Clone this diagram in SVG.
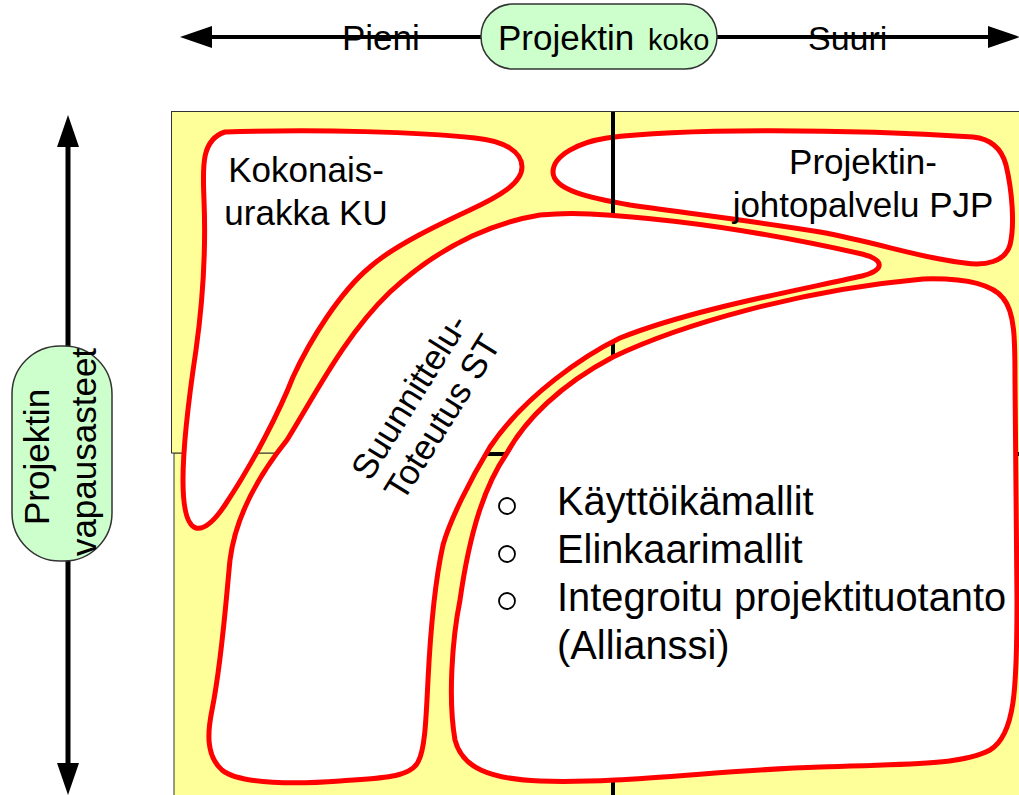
<svg xmlns="http://www.w3.org/2000/svg" width="1019" height="795" viewBox="0 0 1019 795">
<style>
  text { font-family: "Liberation Sans", Arial, sans-serif; fill: #000; }
  .zone { fill: #ffffff; stroke: #ff0000; stroke-width: 5; stroke-linejoin: round; }
  .pill { fill: #ccffcc; stroke: #333333; stroke-width: 1.5; }
  .bg { fill: #ffff99; stroke: #333333; stroke-width: 1; }
  .axis { stroke: #000; fill: none; }
  .cross { stroke: #000; stroke-width: 4; fill: none; }
  .bullet { fill: none; stroke: #000; stroke-width: 1.8; }
  .t35 { font-size: 35px; }
  .t39 { font-size: 39.8px; }
</style>
<defs>
  <marker id="ah" markerUnits="userSpaceOnUse" markerWidth="32" markerHeight="22" viewBox="0 0 32 22" refX="16" refY="11" orient="auto-start-reverse">
    <path d="M0,0 L32,11 L0,22 Z" fill="#000"/>
  </marker>
</defs>
<rect width="1019" height="795" fill="#ffffff"/>

<g id="background">
  <rect class="bg" x="174" y="453" width="860" height="360"/>
  <rect class="bg" x="171.5" y="111.5" width="860" height="341.5"/>
</g>

<g id="node-pjp">
  <path class="zone" d="M 607,138 C 680,128 850,129 973,137 C 992,139 1002,150 1006,165 C 1012,190 1015,225 1010,245 C 1005,262 985,266 965,263 C 920,258 880,243 820,232 C 760,222 700,215 630,205 C 590,198 553,190 553,172 C 553,155 580,142 607,138 Z"/>
  <text class="t35" x="863" y="174" text-anchor="middle">Projektin-</text>
  <text class="t35" x="863" y="217" text-anchor="middle">johtopalvelu PJP</text>
</g>

<g id="cross-lines">
  <line class="cross" x1="613" y1="112" x2="613" y2="795"/>
  <line class="cross" x1="470" y1="454" x2="1019" y2="454"/>
</g>

<g id="node-ku">
  <path class="zone" d="M 225,132 C 320,129 420,132 475,138 C 505,141 522,152 522,167 C 522,183 500,196 470,210 C 440,224 395,245 370,267 C 340,292 310,340 293,377 C 280,410 255,460 225,505 C 215,520 205,530 196,528 C 186,525 183,505 183,480 C 183,440 190,390 196,350 C 203,300 206,250 204,200 C 203,170 200,140 225,132 Z"/>
  <text class="t35" x="306" y="182" text-anchor="middle">Kokonais-</text>
  <text class="t35" x="306" y="225" text-anchor="middle">urakka KU</text>
</g>

<g id="node-st">
  <path class="zone" d="M 590,214 C 700,220 800,240 862,254 C 885,260 885,270 862,276 C 790,292 690,310 620,338 C 585,355 525,395 490,447 C 470,480 450,520 443,545 C 433,590 430,640 428,680 C 426,720 425,750 418,762 C 410,778 380,778 340,781 C 300,784 240,785 222,770 C 205,755 208,730 212,710 C 222,660 226,600 230,560 C 235,520 255,480 287,440 C 315,395 345,335 390,292 C 430,255 480,225 540,215 C 560,213 575,213 590,214 Z"/>
  <g transform="translate(435.5,413) rotate(-58)">
    <text class="t35" x="0" y="-19" text-anchor="middle">Suunnittelu-</text>
    <text class="t35" x="0" y="20" text-anchor="middle">Toteutus ST</text>
  </g>
</g>

<g id="node-big">
  <path class="zone" d="M 923,279 C 960,278 990,282 1003,298 C 1015,312 1015,340 1015,380 L 1017,600 C 1017,690 1015,735 990,750 C 960,766 900,764 820,767 C 720,770 620,784 540,781 C 490,779 462,768 455,740 C 448,700 452,640 460,600 C 470,530 485,485 507,453 C 525,420 560,385 613,357 C 680,325 800,290 923,279 Z"/>
  <circle class="bullet" cx="507" cy="506" r="8"/>
  <circle class="bullet" cx="507" cy="554" r="8"/>
  <circle class="bullet" cx="507" cy="601" r="8"/>
  <text class="t39" x="557" y="515">Käyttöikämallit</text>
  <text class="t39" x="557" y="563">Elinkaarimallit</text>
  <text class="t39" x="557" y="611">Integroitu projektituotanto</text>
  <text class="t39" x="557" y="659">(Allianssi)</text>
</g>

<g id="connectors">
  <line class="axis" stroke-width="4" x1="196" y1="37" x2="1004" y2="37" marker-start="url(#ah)" marker-end="url(#ah)"/>
  <line class="axis" stroke-width="5" x1="68" y1="131" x2="68" y2="779" marker-start="url(#ah)" marker-end="url(#ah)"/>
</g>

<g id="label-pieni">
  <text class="t35" x="342" y="50">Pieni</text>
</g>
<g id="label-suuri">
  <text class="t35" x="808" y="50" style="font-size:34px">Suuri</text>
</g>

<g id="node-size">
  <rect class="pill" x="481" y="4" width="236" height="65" rx="32" ry="32"/>
  <text x="498" y="50" style="font-size:35px">Projektin <tspan x="648" style="font-size:29px">koko</tspan></text>
</g>

<g id="node-freedom">
  <rect class="pill" x="12" y="346" width="100" height="215" rx="48" ry="48"/>
  <text class="t35" transform="translate(49,457) rotate(-90)" text-anchor="middle">Projektin</text>
  <text class="t35" transform="translate(96,452) rotate(-90)" text-anchor="middle">vapausasteet</text>
</g>
</svg>
